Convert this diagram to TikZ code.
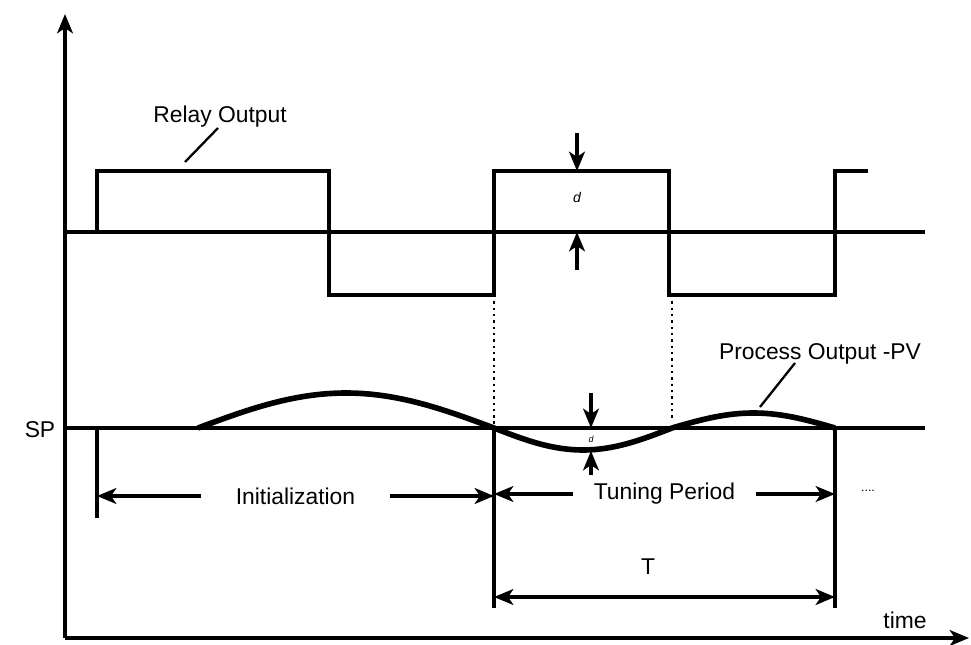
\documentclass[tikz,border=0pt]{standalone}
\usepackage{fontspec}
\setmainfont{Liberation Sans}
\usetikzlibrary{arrows.meta}

\begin{document}
\begin{tikzpicture}[x=0.02cm,y=-0.02cm,line width=1.8pt,
  >={Stealth[length=11pt,width=9pt,inset=3pt]},
  font=\fontsize{13}{15}\selectfont,
  pvline/.style={line width=3.2pt},
  dotline/.style={line width=1.4pt,dash pattern=on 1.4pt off 2.2pt},
  lbl/.style={inner sep=1pt}]
\def\hi{171}
\def\lo{295}
\def\base{232}
\def\spy{428}
\useasboundingbox (0,0) rectangle (971,645);

% axes
\coordinate (O) at (65,638);
\coordinate (Ytop) at (65,14);
\coordinate (Xend) at (969,638);
\draw[->] (O) -- (Ytop);
\draw[->] (O) -- (Xend);

% relay output
\coordinate (RBa) at (65,\base);
\coordinate (RBb) at (925,\base);
\draw (RBa) -- (RBb);
\draw (97,\base) -- (97,\hi) -- (329,\hi) -- (329,\lo) -- (494,\lo) -- (494,\hi)
  -- (669,\hi) -- (669,\lo) -- (835,\lo) -- (835,\hi) -- (868,\hi);

% relay amplitude d
\coordinate (DTa) at (577,133);
\coordinate (DTb) at (577,\hi);
\coordinate (DBa) at (577,270);
\coordinate (DBb) at (577,\base);
\draw[->] (DTa) -- (DTb);
\draw[->] (DBa) -- (DBb);
\node[lbl,font=\footnotesize\itshape] (drelay) at (577,197) {d};

% dotted guides
\draw[dotline] (494,\lo) -- (494,\spy);
\draw[dotline] (672,\lo) -- (672,420);

% set point and process value
\coordinate (SPa) at (65,\spy);
\coordinate (SPb) at (925,\spy);
\draw (SPa) -- (SPb);
\node (splbl) at (40,430) {SP};
\draw[pvline] plot[domain=0:180,samples=40] ({198+1.6444*\x},{\spy-35*sin(\x)});
\draw[pvline] plot[domain=0:180,samples=40] ({494+0.98889*\x},{\spy+22*sin(\x)});
\draw[pvline] plot[domain=0:180,samples=40] ({672+0.90556*\x},{\spy-15*sin(\x)});

% process amplitude d
\coordinate (PTa) at (591,393);
\coordinate (PTb) at (591,\spy);
\coordinate (PBa) at (591,475);
\coordinate (PBb) at (591,451);
\draw[->] (PTa) -- (PTb);
\draw[->] (PBa) -- (PBb);
\node[lbl,font=\tiny\itshape] (dpv) at (591,439) {d};

% period markers
\draw (97,\spy) -- (97,518);
\draw (494,\spy) -- (494,608);
\draw (835,\spy) -- (835,608);

\coordinate (IA) at (97,496);
\coordinate (IB) at (494,496);
\draw[<->] (IA) -- node[fill=white,inner xsep=20pt] (initlbl) {Initialization} (IB);
\coordinate (TPa) at (494,494);
\coordinate (TPb) at (835,494);
\draw[<->] (TPa) -- node[fill=white,inner xsep=12pt] (tunelbl) {Tuning Period} (TPb);
\node[font=\scriptsize] (dots) at (868,491) {....};

\coordinate (Ta) at (494,597);
\coordinate (Tb) at (835,597);
\draw[<->,line width=2.4pt] (Ta) -- (Tb);
\node (tlbl) at (648,567) {T};

\node (timelbl) at (905,620) {time};

% leaders
\node (relaylbl) at (220,117) {Relay Output};
\coordinate (RLa) at (185,162);
\coordinate (RLb) at (218,128);
\draw[line width=1.3pt] (RLa) -- (RLb);
\node (pvlbl) at (820,354) {Process Output -PV};
\coordinate (PLa) at (760,407);
\coordinate (PLb) at (795,363);
\draw[line width=1.3pt] (PLa) -- (PLb);
\end{tikzpicture}
\end{document}
